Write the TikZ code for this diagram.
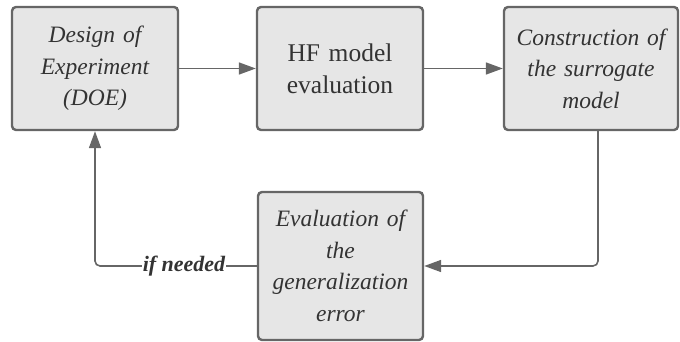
\documentclass[tikz,border=0pt]{standalone}
\usepackage{fontspec}
\setmainfont{Liberation Serif}
\usetikzlibrary{arrows.meta}
\definecolor{edgegray}{HTML}{666666}
\definecolor{boxfill}{HTML}{E6E6E6}
\definecolor{textgray}{HTML}{333333}
\begin{document}
\begin{tikzpicture}[x=1pt,y=1pt,
  stepbox/.style={draw=edgegray, line width=2.4pt, fill=boxfill, rounded corners=4pt,
    align=center, text=textgray, inner sep=0pt,
    font=\fontsize{23.5}{31.5}\selectfont},
  link/.style={draw=edgegray, line width=1.6pt, rounded corners=5pt,
    -{Triangle[length=17pt,width=12pt]}},
  plain/.style={draw=edgegray, line width=1.6pt, rounded corners=5pt}]
\useasboundingbox (0,0) rectangle (680,342);
% process boxes
\node[stepbox, minimum width=166pt, minimum height=123pt, text width=160pt] (doe) at (95,273.5)
  {\itshape Design of\\ Experiment\\ (DOE)};
\node[stepbox, minimum width=166pt, minimum height=123pt, text width=160pt,
  font=\fontsize{25.5}{32}\selectfont] (hf) at (340,273.5)
  {HF model\\ evaluation};
\node[stepbox, minimum width=174pt, minimum height=123pt, text width=170pt] (sur) at (591,273.5)
  {\itshape Construction of\\ the surrogate\\ model};
\node[stepbox, minimum width=165pt, minimum height=148pt, text width=160pt] (gen) at (340.5,76)
  {\itshape Evaluation of\\ the\\ generalization\\ error};
% connectors
\draw[link] (doe.east) -- (hf.west);
\draw[link] (hf.east) -- (sur.west);
\draw[link] (sur.south -| 598,0) |- (gen.east);
\coordinate (corner) at (95,76);
\draw[link] (gen.west) -- (corner) -- (doe.south);
\node[fill=white, inner sep=1pt, text=textgray, font=\fontsize{22}{24}\selectfont\bfseries\itshape]
  (lbl) at (184,76) {if needed};
\end{tikzpicture}
\end{document}
